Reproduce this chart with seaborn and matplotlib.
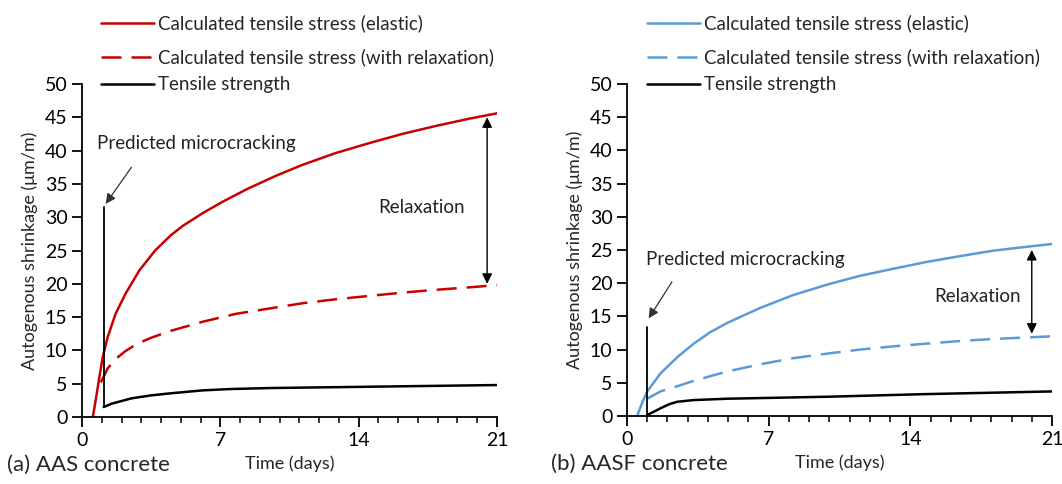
import seaborn as sns
import matplotlib.pyplot as plt
from matplotlib.lines import Line2D

# (a) AAS concrete
aas_elastic_t = [0.55, 0.72, 0.88, 1.05, 1.3, 1.7, 2.2, 2.9, 3.7, 4.5, 5.1, 6.1, 7.1, 8.4, 9.8, 11.1, 12.8, 14.5, 16.2, 17.9, 19.6, 21]
aas_elastic_v = [0, 3, 6, 9, 12, 15.5, 18.5, 22, 25, 27.3, 28.7, 30.6, 32.3, 34.3, 36.2, 37.8, 39.6, 41.1, 42.5, 43.7, 44.8, 45.6]
aas_relax_t = [0.95, 1.3, 1.7, 2.2, 2.8, 3.5, 4.45, 6.1, 7.8, 9.5, 11.2, 12.9, 14.6, 16.3, 17.9, 19.5, 21]
aas_relax_v = [5.2, 7.3, 8.7, 9.9, 11.0, 11.9, 12.9, 14.3, 15.5, 16.3, 17.1, 17.7, 18.2, 18.7, 19.1, 19.45, 19.8]
aas_strength_t = [1.1, 1.5, 2.5, 3.5, 4.45, 6.1, 7.5, 9.5, 14.6, 21]
aas_strength_v = [1.5, 2.0, 2.8, 3.25, 3.55, 4.0, 4.2, 4.35, 4.55, 4.8]

# (b) AASF concrete
aasf_elastic_t = [0.5, 0.75, 1.0, 1.65, 2.5, 3.3, 4.1, 4.94, 6.6, 8.2, 9.9, 11.5, 13.2, 14.8, 16.5, 18.1, 19.8, 21]
aasf_elastic_v = [0, 2, 3.7, 6.4, 8.9, 10.9, 12.6, 14.0, 16.3, 18.2, 19.8, 21.1, 22.2, 23.2, 24.1, 24.9, 25.5, 25.9]
aasf_relax_t = [1.0, 1.65, 2.5, 3.3, 4.94, 6.6, 8.2, 9.9, 11.5, 13.2, 14.8, 16.5, 18.1, 21]
aasf_relax_v = [2.6, 3.7, 4.5, 5.3, 6.7, 7.8, 8.7, 9.4, 10.0, 10.5, 10.9, 11.3, 11.6, 12.0]
aasf_strength_t = [0.99, 1.3, 1.65, 2.1, 2.5, 3.3, 4.94, 9.9, 14.8, 21]
aasf_strength_v = [0.15, 0.6, 1.15, 1.8, 2.15, 2.4, 2.6, 2.9, 3.3, 3.7]

labels = ['Calculated tensile stress (elastic)',
          'Calculated tensile stress (with relaxation)',
          'Tensile strength']

sns.set_style('ticks')
plt.rcParams['font.family'] = ['Lato', 'DejaVu Sans']

DASH = (0, (8, 4))

fig = plt.figure(figsize=(10.62, 4.84), dpi=100)
ax1 = fig.add_axes([0.0772, 0.1384, 0.3908, 0.688])
ax2 = fig.add_axes([0.5904, 0.1405, 0.4002, 0.686])

panels = [
    (ax1, '#C80000', aas_elastic_t, aas_elastic_v, aas_relax_t, aas_relax_v,
     aas_strength_t, aas_strength_v, '(a) AAS concrete',
     dict(crack_x=1.12, crack_y=(1.5, 31.5), arr_from=(2.5, 37.5), arr_to=(1.2, 32.0),
          crack_txt=(0.75, 41), relax_x=20.5, relax_y=(45.0, 20.0), relax_txt=(17.2, 31.5)),
     0.092),
    (ax2, '#5B9BD5', aasf_elastic_t, aasf_elastic_v, aasf_relax_t, aasf_relax_v,
     aasf_strength_t, aasf_strength_v, '(b) AASF concrete',
     dict(crack_x=0.99, crack_y=(0.15, 13.4), arr_from=(2.22, 20.2), arr_to=(1.07, 14.7),
          crack_txt=(0.92, 23.5), relax_x=20.0, relax_y=(25.0, 12.4), relax_txt=(17.3, 18)),
     0.606),
]

for ax, col, et, ev, rt, rv, st, sv, title, ann, lx in panels:
    sns.lineplot(x=et, y=ev, ax=ax, color=col, lw=1.8)
    sns.lineplot(x=rt, y=rv, ax=ax, color=col, lw=1.8, linestyle=DASH)
    sns.lineplot(x=st, y=sv, ax=ax, color='black', lw=1.8)

    ax.set_xlim(0, 21)
    ax.set_ylim(0, 50)
    ax.set_xticks([0, 7, 14, 21])
    ax.set_xticks(range(22), minor=True)
    ax.set_yticks(range(0, 51, 5))
    ax.tick_params(axis='both', which='major', direction='out', length=7, width=1.3,
                   labelsize=14, colors='black')
    ax.tick_params(axis='x', which='minor', direction='out', length=4, width=1.3)
    for s in ['top', 'right']:
        ax.spines[s].set_visible(False)
    for s in ['left', 'bottom']:
        ax.spines[s].set_linewidth(1.3)
        ax.spines[s].set_color('black')
    ax.set_xlabel('Time (days)', fontsize=13, labelpad=5)
    ax.set_ylabel('Autogenous shrinkage (μm/m)', fontsize=13, labelpad=5)

    # microcracking marker
    ax.plot([ann['crack_x'], ann['crack_x']], ann['crack_y'], color='black', lw=1.3)
    ax.annotate('', xy=ann['arr_to'], xytext=ann['arr_from'],
                arrowprops=dict(arrowstyle='-|>', color='#333333', lw=0.9,
                                mutation_scale=15, shrinkA=0, shrinkB=0))
    ax.text(ann['crack_txt'][0], ann['crack_txt'][1], 'Predicted microcracking',
            fontsize=13.5, va='center', ha='left', color='#222222')
    ax.annotate('', xy=(ann['relax_x'], ann['relax_y'][0]),
                xytext=(ann['relax_x'], ann['relax_y'][1]),
                arrowprops=dict(arrowstyle='<|-|>', color='black', lw=1.0,
                                mutation_scale=15, shrinkA=0, shrinkB=0))
    ax.text(ann['relax_txt'][0], ann['relax_txt'][1], 'Relaxation',
            fontsize=13.5, va='center', ha='center', color='#222222')

    ax.text(-0.18, -0.145, title, transform=ax.transAxes, fontsize=16,
            ha='left', va='center')

    h_top = [Line2D([], [], color=col, lw=1.8),
             Line2D([], [], color=col, lw=1.8, linestyle=DASH)]
    fig.legend(h_top, labels[:2], loc='upper left', bbox_to_anchor=(lx, 0.978),
               frameon=False, fontsize=13.5, handlelength=2.8, handletextpad=0.2,
               labelspacing=0.85, borderpad=0.2, borderaxespad=0)
    h_bot = [Line2D([], [], color='black', lw=1.8)]
    fig.legend(h_bot, labels[2:], loc='upper left', bbox_to_anchor=(lx, 0.85),
               frameon=False, fontsize=13.5, handlelength=2.8, handletextpad=0.2,
               borderpad=0.2, borderaxespad=0)

fig.savefig('out.png', dpi=100)
